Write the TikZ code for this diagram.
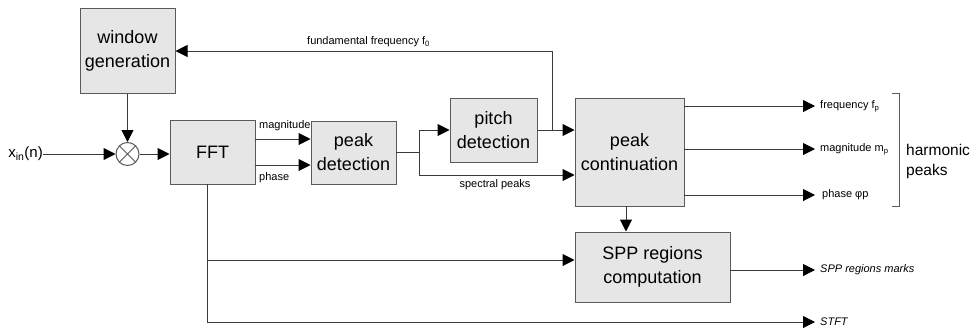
\documentclass[tikz,border=0pt]{standalone}
\usepackage{fontspec}
\setmainfont{Liberation Sans}
\usetikzlibrary{arrows.meta}
\definecolor{boxfill}{HTML}{E6E6E6}
\definecolor{boxline}{HTML}{5A5A5A}
\definecolor{wire}{HTML}{3A3A3A}
\tikzset{
  blk/.style={draw=boxline, fill=boxfill, line width=1pt, rectangle, inner sep=0pt, align=center,
    font=\fontsize{18}{24}\selectfont},
  wireln/.style={draw=wire, line width=1pt},
  arr/.style={wireln, -{Triangle[length=12pt,width=12pt,color=black]}},
  lbl/.style={inner sep=0pt, font=\fontsize{11}{13}\selectfont},
}
\begin{document}
\begin{tikzpicture}[x=1pt,y=-1pt]
\useasboundingbox (0,0) rectangle (971,327);

% blocks
\node[blk, minimum width=95pt, minimum height=85pt] (win) at (127.5,50.5) {window\\generation};
\node[draw=boxline, line width=1pt, fill=white, circle, minimum size=23pt, inner sep=0pt] (mult) at (127.5,154) {};
\draw[boxline, line width=1pt] (mult.north east) -- (mult.south west) (mult.north west) -- (mult.south east);
\node[blk, minimum width=85pt, minimum height=64pt] (fft) at (212.5,152) {FFT};
\node[blk, minimum width=85pt, minimum height=63pt] (pd) at (353.5,152.5) {peak\\detection};
\node[blk, minimum width=87pt, minimum height=64pt] (pitch) at (493.5,130) {pitch\\detection};
\node[blk, minimum width=109pt, minimum height=108pt] (pc) at (629.5,152) {peak\\continuation};
\node[blk, minimum width=155pt, minimum height=70pt] (spp) at (652.5,267) {SPP regions\\computation};

% input
\node[inner sep=0pt, anchor=east, font=\fontsize{15}{18}\selectfont] (xin) at (43,154) {x\textsubscript{in}(n)};
\draw[arr] (xin.east) -- (mult.west);
\draw[arr] (win.south) -- (mult.north);
\draw[arr] (mult.east) -- (mult.east -| fft.west);

% FFT to peak detection
\coordinate (magS) at (255,139);
\coordinate (phS) at (255,165);
\draw[arr] (magS) -- (magS -| pd.west);
\draw[arr] (phS) -- (phS -| pd.west);
\node[lbl, anchor=south west] (maglbl) at (259,131) {magnitude};
\node[lbl, anchor=north west] (phlbl) at (259,172) {phase};

% peak detection outputs
\coordinate (pdo) at (396,152);
\coordinate (br) at (419,152);
\coordinate (brT) at (419,130);
\coordinate (brB) at (419,175);
\draw[wireln] (pdo) -- (br);
\draw[arr] (brB) -- (brT) -- (pitch.west);
\draw[arr] (brT) -- (brB) -- (brB -| pc.west);
\node[lbl, anchor=north] (splbl) at (495,179) {spectral peaks};

% pitch detection outputs
\coordinate (f0b) at (552,130);
\coordinate (f0t) at (552,51);
\draw[arr] (pitch.east) -- (pitch.east -| pc.west);
\draw[arr] (f0b) -- (f0t) -- (f0t -| win.east);
\node[lbl, anchor=south west] (f0lbl) at (307,47) {fundamental frequency f\textsubscript{0}};

% peak continuation outputs
\coordinate (o1) at (684,106);
\coordinate (o2) at (684,149);
\coordinate (o3) at (684,195);
\coordinate (e1) at (815,106);
\coordinate (e2) at (815,149);
\coordinate (e3) at (815,195);
\draw[arr] (o1) -- (e1);
\draw[arr] (o2) -- (e2);
\draw[arr] (o3) -- (e3);
\node[lbl, anchor=west] (l1) at (820,106) {frequency f\textsubscript{p}};
\node[lbl, anchor=west] (l2) at (820,149) {magnitude m\textsubscript{p}};
\node[lbl, anchor=west] (l3) at (822,195) {phase φp};

% bracket
\coordinate (bk1) at (892,93);
\coordinate (bk2) at (899,93);
\coordinate (bk3) at (899,206);
\coordinate (bk4) at (892,206);
\draw[boxline, line width=1pt] (bk1) -- (bk2) -- (bk3) -- (bk4);
\node[inner sep=0pt, anchor=west, align=left, font=\fontsize{15.5}{20}\selectfont] (hp) at (906,161) {harmonic\\peaks};

% peak continuation to SPP
\coordinate (pcb) at (626,206);
\draw[arr] (pcb) -- (pcb |- spp.north);

% FFT lower outputs
\coordinate (fftb) at (207,184);
\coordinate (sppbr) at (207,260);
\coordinate (stftc) at (207,322);
\coordinate (stfte) at (815,322);
\draw[wireln] (fftb) -- (stftc);
\draw[arr] (sppbr) -- (sppbr -| spp.west);
\draw[arr] (stftc) -- (stfte);
\node[lbl, anchor=west, font=\fontsize{11}{13}\selectfont\itshape] (stft) at (820,322) {STFT};

\coordinate (sppo) at (730,270);
\coordinate (sppe) at (815,270);
\draw[arr] (sppo) -- (sppe);
\node[lbl, anchor=west, font=\fontsize{11}{13}\selectfont\itshape] (sppm) at (820,270) {SPP regions marks};
\end{tikzpicture}
\end{document}
